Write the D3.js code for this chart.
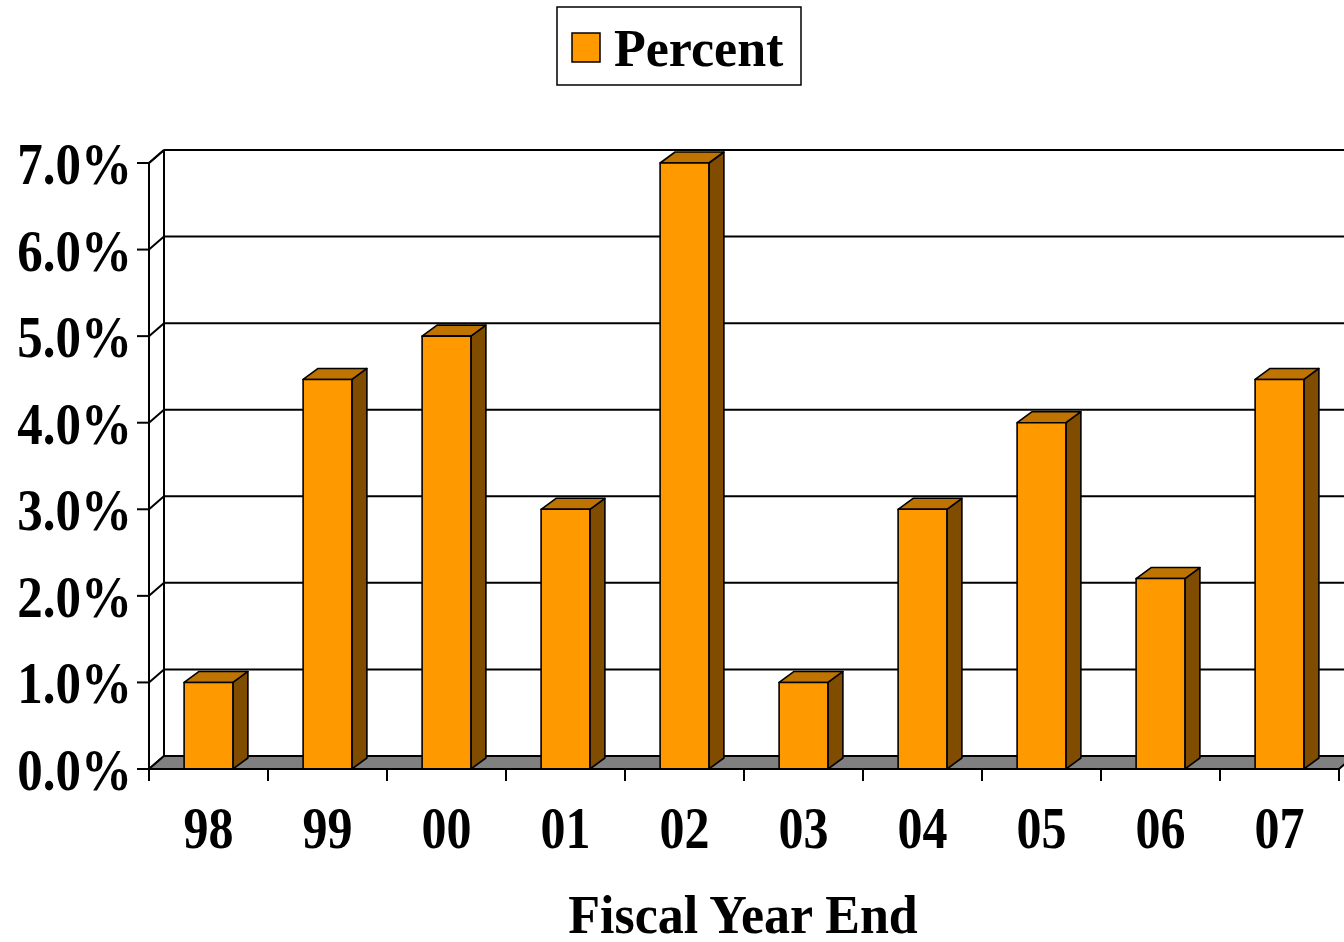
<!DOCTYPE html>
<html>
<head>
<meta charset="utf-8">
<script src="https://cdn.jsdelivr.net/npm/d3@7"></script>
<style>
  body { margin: 0; background: #fff; }
  svg { display: block; }
  text { font-family: "Liberation Serif", "Times New Roman", serif; font-weight: bold; fill: #000; }
</style>
</head>
<body>
<svg id="chart" width="1344" height="942"></svg>
<script>
const years = ['98', '99', '00', '01', '02', '03', '04', '05', '06', '07'];
const percents = [1.0, 4.5, 5.0, 3.0, 7.0, 1.0, 3.0, 4.0, 2.2, 4.5];
const yTicks = [0, 1, 2, 3, 4, 5, 6, 7];
const seriesName = 'Percent';
const axisTitle = 'Fiscal Year End';

const svg = d3.select('#chart');

// front plane of the 3d box
const plotLeft = 149, plotRight = 1339, plotBottom = 769, plotTop = 163;
const wallDx = 15, wallDy = -13;   // depth of walls/floor
const barDx = 15, barDy = -11;     // depth of each bar

const x = d3.scaleBand().domain(years).range([plotLeft, plotRight]).padding(0);
const y = d3.scaleLinear().domain([0, 7]).range([plotBottom, plotTop]);
const bw = x.bandwidth() * 0.41;

const fmt = d3.format('.1%');

// back wall
svg.append('rect')
  .attr('x', plotLeft + wallDx).attr('y', y(7) + wallDy)
  .attr('width', 1344 - plotLeft).attr('height', y(0) - y(7))
  .attr('fill', '#fff');

// gridlines on back wall + left wall diagonals
const grid = svg.append('g').attr('stroke', '#000').attr('stroke-width', 2).attr('fill', 'none');
yTicks.forEach(t => {
  grid.append('line')
    .attr('x1', plotLeft + wallDx).attr('x2', 1360)
    .attr('y1', y(t) + wallDy).attr('y2', y(t) + wallDy);
  grid.append('line')
    .attr('x1', plotLeft).attr('y1', y(t))
    .attr('x2', plotLeft + wallDx).attr('y2', y(t) + wallDy);
});
grid.append('line')
  .attr('x1', plotLeft + wallDx).attr('x2', plotLeft + wallDx)
  .attr('y1', y(7) + wallDy).attr('y2', y(0) + wallDy);

// floor
svg.append('path')
  .attr('d', 'M' + plotLeft + ',' + y(0) +
    'L' + (plotLeft + wallDx) + ',' + (y(0) + wallDy) +
    'L' + (plotRight + wallDx) + ',' + (y(0) + wallDy) +
    'L' + plotRight + ',' + y(0) + 'Z')
  .attr('fill', '#808080')
  .attr('stroke', '#000')
  .attr('stroke-width', 2)
  .attr('stroke-linejoin', 'round');

// bars
const bars = svg.append('g').selectAll('g')
  .data(years.map((c, i) => ({ c: c, v: percents[i] })))
  .enter()
  .append('g')
  .attr('stroke', '#000')
  .attr('stroke-width', 1.6)
  .attr('stroke-linejoin', 'round');

bars.append('path')
  .attr('d', d => {
    const x0 = x(d.c) + (x.bandwidth() - bw) / 2, x1 = x0 + bw, yt = y(d.v);
    return 'M' + x1 + ',' + y(0) + 'L' + (x1 + barDx) + ',' + (y(0) + barDy) +
      'L' + (x1 + barDx) + ',' + (yt + barDy) + 'L' + x1 + ',' + yt + 'Z';
  })
  .attr('fill', '#7F4C00');

bars.append('path')
  .attr('d', d => {
    const x0 = x(d.c) + (x.bandwidth() - bw) / 2, x1 = x0 + bw, yt = y(d.v);
    return 'M' + x0 + ',' + yt + 'L' + (x0 + barDx) + ',' + (yt + barDy) +
      'L' + (x1 + barDx) + ',' + (yt + barDy) + 'L' + x1 + ',' + yt + 'Z';
  })
  .attr('fill', '#BF7300');

bars.append('rect')
  .attr('x', d => x(d.c) + (x.bandwidth() - bw) / 2)
  .attr('y', d => y(d.v))
  .attr('width', bw)
  .attr('height', d => y(0) - y(d.v))
  .attr('fill', '#FF9900');

// front axes
const axes = svg.append('g').attr('stroke', '#000').attr('stroke-width', 2);
axes.append('line').attr('x1', plotLeft).attr('x2', plotLeft).attr('y1', y(7)).attr('y2', y(0) + 12);
axes.append('line').attr('x1', plotLeft).attr('x2', plotLeft + wallDx).attr('y1', y(7)).attr('y2', y(7) + wallDy);
yTicks.forEach(t => {
  axes.append('line').attr('x1', plotLeft - 12).attr('x2', plotLeft).attr('y1', y(t)).attr('y2', y(t));
});
axes.append('line').attr('x1', plotLeft).attr('x2', plotRight).attr('y1', y(0)).attr('y2', y(0));
years.forEach(c => {
  axes.append('line').attr('x1', x(c) + x.bandwidth()).attr('x2', x(c) + x.bandwidth())
    .attr('y1', y(0)).attr('y2', y(0) + 12);
});

// y labels
svg.append('g').selectAll('text')
  .data(yTicks)
  .enter()
  .append('text')
  .attr('transform', d => 'translate(132,' + (y(d) + 21) + ') scale(1,1.14)')
  .attr('text-anchor', 'end')
  .style('font-size', '51px')
  .text(d => fmt(d / 100));

// x labels
svg.append('g').selectAll('text')
  .data(years)
  .enter()
  .append('text')
  .attr('transform', d => 'translate(' + (x(d) + x.bandwidth() / 2) + ',848) scale(1,1.17)')
  .attr('text-anchor', 'middle')
  .style('font-size', '50px')
  .text(d => d);

// axis title
svg.append('text')
  .attr('transform', 'translate(743,933) scale(1,1.06)')
  .attr('text-anchor', 'middle')
  .style('font-size', '52px')
  .text(axisTitle);

// legend
const lg = svg.append('g');
lg.append('rect').attr('x', 557).attr('y', 7).attr('width', 244).attr('height', 78)
  .attr('fill', '#fff').attr('stroke', '#000').attr('stroke-width', 1.5);
lg.append('rect').attr('x', 572).attr('y', 33).attr('width', 28).attr('height', 29)
  .attr('fill', '#FF9900').attr('stroke', '#000').attr('stroke-width', 1.5);
lg.append('text').attr('x', 614).attr('y', 66).style('font-size', '52px').text(seriesName);
</script>
</body>
</html>
